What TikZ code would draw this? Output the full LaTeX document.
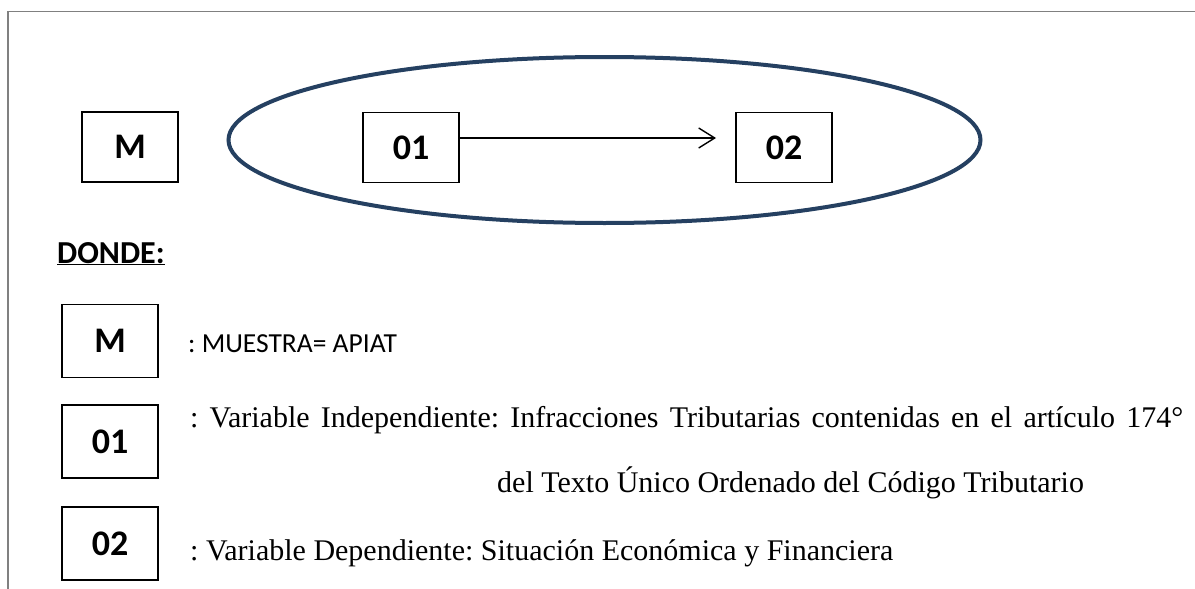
\documentclass[tikz,border=0pt]{standalone}
\usepackage{fontspec}
\setmainfont{Liberation Serif}
\newfontfamily\calfont{Carlito}
\usetikzlibrary{arrows.meta}
\definecolor{ellblue}{HTML}{254061}
\definecolor{framegray}{HTML}{808080}
\frenchspacing
\begin{document}
\begin{tikzpicture}[x=1pt,y=-1pt,
  varbox/.style={draw=black,line width=1.2pt,minimum width=96pt,minimum height=70pt,inner sep=0pt,font=\calfont\bfseries\fontsize{36}{40}\selectfont},
  smallbox/.style={varbox,minimum width=96pt,minimum height=73pt},
  desc/.style={anchor=base west,inner sep=0pt,font=\fontsize{30}{34}\selectfont},
  descsans/.style={anchor=base west,inner sep=0pt,font=\calfont\fontsize{27.5}{32}\selectfont}]
\useasboundingbox (0,0) rectangle (1195,589);
% frame
\draw[framegray,line width=1.6pt] (8,589) -- (8,11.5) -- (1195,11.5);
% ellipse
\draw[ellblue,line width=4pt] (604.5,140) ellipse [x radius=376, y radius=83];
% top boxes
\node[varbox] (mtop) at (130,147) {M};
\node[varbox] (o1) at (411,147.5) {01};
\node[varbox] (o2) at (784,147.5) {02};
\coordinate (tip) at (716,138);
\draw[-{Straight Barb[length=16pt,width=20pt,line width=1.4pt]},line width=1.4pt] (o1.east |- tip) -- (tip);
% legend
\node[anchor=base west,inner sep=0pt,font=\calfont\bfseries\fontsize{32}{36}\selectfont] (donde) at (57,263) {\underline{DONDE:}};
\node[smallbox] (mleg) at (110,341) {M};
\node[smallbox] (o1leg) at (110,441.5) {01};
\node[smallbox] (o2leg) at (110,543.5) {02};
\node[descsans] (dm) at (188,352) {: MUESTRA= APIAT};
\node[desc] (d1) at (190,427) {\makebox[993pt][s]{: Variable Independiente: Infracciones Tributarias contenidas en el artículo 174°}};
\node[desc] (d1b) at (497,492) {del Texto Único Ordenado del Código Tributario};
\node[desc] (d2) at (190,560) {: Variable Dependiente: Situación Económica y Financiera};
\end{tikzpicture}
\end{document}
